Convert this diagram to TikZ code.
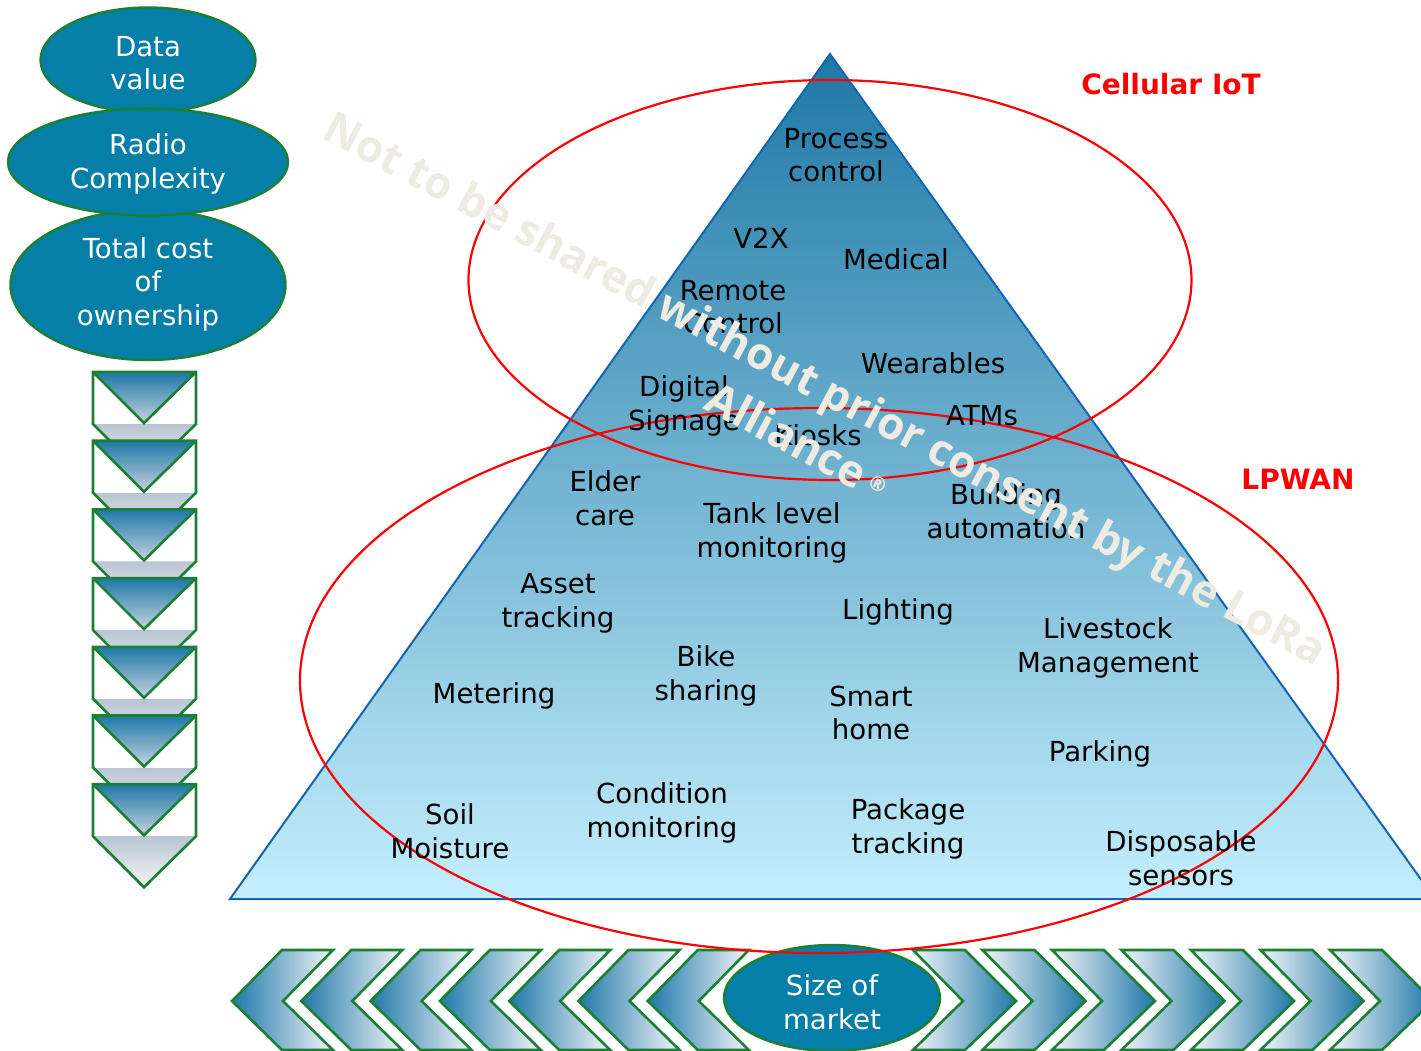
\documentclass[tikz,border=0pt]{standalone}
\usepackage{fontspec}
\setmainfont{DejaVu Sans}
\newfontfamily\wmfont{Open Sans}
\usetikzlibrary{shapes.geometric}
\definecolor{tealfill}{RGB}{5,127,167}
\definecolor{greenline}{RGB}{28,128,52}
\definecolor{chevdark}{RGB}{30,120,168}
\definecolor{chevmid}{RGB}{198,210,222}
\definecolor{chevlow}{RGB}{184,197,210}
\definecolor{chevlight}{RGB}{242,245,248}
\definecolor{tritop}{RGB}{30,120,165}
\definecolor{tribot}{RGB}{196,238,252}
\definecolor{triline}{RGB}{20,100,180}
\definecolor{redline}{RGB}{255,0,0}
\definecolor{wmcol}{RGB}{238,236,226}
\begin{document}
\begin{tikzpicture}[x=0.5pt,y=-0.5pt,
  lbl/.style={font=\fontsize{13.8pt}{16.8pt}\selectfont, align=center, inner sep=0pt},
  wlbl/.style={lbl, text=white},
  bubble/.style={ellipse, draw=greenline, line width=1.2pt, fill=tealfill, inner sep=0pt},
  redell/.style={ellipse, draw=redline, line width=1.1pt, inner sep=0pt},
  redlbl/.style={font=\bfseries\fontsize{14pt}{16.8pt}\selectfont, text=redline, inner sep=0pt},
  chevline/.style={draw=greenline, line width=1.3pt, line join=miter}]
\useasboundingbox (0,0) rectangle (1421,1051);
\fill[white] (0,0) rectangle (1421,1051);

% left column of chevrons
\foreach \i in {0,...,6}{
  \pgfmathsetmacro\t{372+68.7*\i}
  \shade[top color=chevlow, bottom color=chevlight] (93,{\t+52}) -- (196,{\t+52}) -- (144,{\t+103}) -- cycle;
  \fill[white] (93,\t) rectangle (196,{\t+52});
  \shade[top color=chevdark, bottom color=chevmid] (93,\t) -- (196,\t) -- (144,{\t+51}) -- cycle;
  \draw[chevline] (93,\t) -- (196,\t) -- (196,{\t+52}) -- (144,{\t+103}) -- (93,{\t+52}) -- cycle;
  \draw[chevline] (93,\t) -- (144,{\t+51}) -- (196,\t);
}

% bottom row of chevrons
\foreach \i in {0,...,6}{
  \pgfmathsetmacro\p{232+69.3*\i}
  \draw[chevline, left color=chevdark, right color=chevlight]
    (\p,1001) -- ({\p+50},950) -- ({\p+101},950) -- ({\p+51},1001) -- ({\p+101},1050) -- ({\p+50},1050) -- cycle;
}
\foreach \i in {0,...,6}{
  \pgfmathsetmacro\q{913+69.5*\i}
  \draw[chevline, left color=chevlight, right color=chevdark]
    (\q,950) -- ({\q+52},950) -- ({\q+103},1001) -- ({\q+52},1050) -- (\q,1050) -- ({\q+50},1001) -- cycle;
}

% left bubbles
\node[bubble, minimum width=107.5pt, minimum height=52.5pt] (dv) at (148,60) {};
\node[bubble, minimum width=137.5pt, minimum height=75pt] (tc) at (148,285) {};
\node[bubble, minimum width=140pt, minimum height=53.5pt] (rc) at (148,162) {};
\node[wlbl] (dvt) at (148,63) {Data\\value};
\node[wlbl] (rct) at (148,164) {Radio\\Complexity};
\node[wlbl] (tct) at (148,284) {Total cost\\of\\ownership};

% size of market
\node[bubble, minimum width=108pt, minimum height=53pt] (sm) at (832,998) {};
\node[wlbl] (smt) at (832,1002) {Size of\\market};

% pyramid
\draw[triline, line width=1pt, top color=tritop, bottom color=tribot]
  (830,54) -- (1435,899) -- (230,899) -- cycle;

% red ellipses
\node[redell, minimum width=361.5pt, minimum height=200pt] (cellell) at (830,280) {};
\node[redell, minimum width=519pt, minimum height=272.5pt] (lpell) at (819,680.5) {};
\node[redlbl] (cell) at (1171,84) {Cellular IoT};
\node[redlbl] (lpwan) at (1298,479) {LPWAN};

% application labels
\node[lbl] (l1) at (836,155) {Process\\control};
\node[lbl] (l2) at (761,238) {V2X};
\node[lbl] (l3) at (896,259) {Medical};
\node[lbl] (l4) at (733,307) {Remote\\Control};
\node[lbl] (l5) at (933,363) {Wearables};
\node[lbl] (l6) at (684,406) {Digital\\Signage};
\node[lbl] (l7) at (982,416) {ATMs};
\node[lbl] (l8) at (818,435) {Kiosks};
\node[lbl] (l9) at (605,498) {Elder\\care};
\node[lbl] (l10) at (772,533) {Tank level\\monitoring};
\node[lbl] (l11) at (1006,511) {Building\\automation};
\node[lbl] (l12) at (558,603) {Asset\\tracking};
\node[lbl] (l13) at (898,612) {Lighting};
\node[lbl] (l14) at (1108,648) {Livestock\\Management};
\node[lbl] (l15) at (706,676) {Bike\\sharing};
\node[lbl] (l16) at (494,696) {Metering};
\node[lbl] (l17) at (871,713) {Smart\\home};
\node[lbl] (l18) at (1100,754) {Parking};
\node[lbl] (l19) at (450,831) {Soil\\Moisture};
\node[lbl] (l20) at (662,813) {Condition\\monitoring};
\node[lbl] (l21) at (908,829) {Package\\tracking};
\node[lbl] (l22) at (1181,858) {Disposable\\sensors};

% watermark
\node[rotate=-28, text=wmcol, inner sep=0pt, align=center,
      font=\wmfont\bfseries\fontsize{22pt}{30pt}\selectfont] (wm) at (812,414)
  {Not to be shared without prior consent by the LoRa\\Alliance\,\raisebox{0.35ex}{\fontsize{10pt}{10pt}\selectfont ®}};
\end{tikzpicture}
\end{document}
